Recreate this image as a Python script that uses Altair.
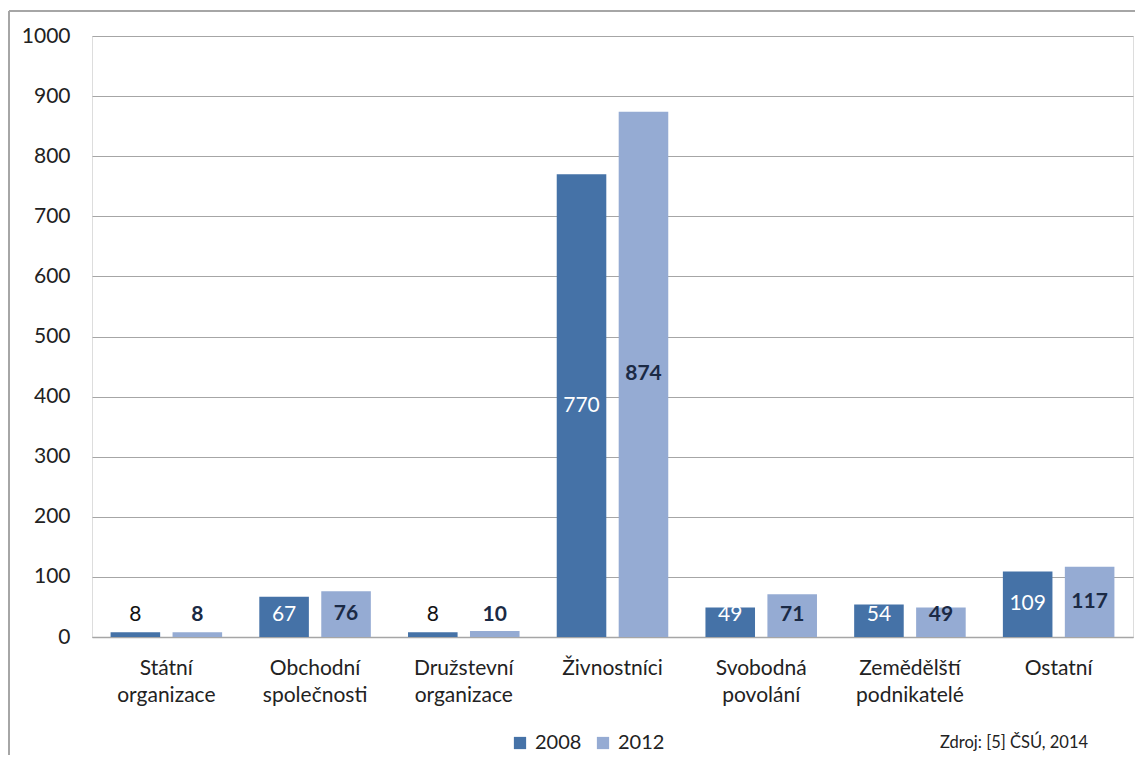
import altair as alt
import pandas as pd

categories = ["Státní|organizace", "Obchodní|společnosti", "Družstevní|organizace",
              "Živnostníci", "Svobodná|povolání", "Zemědělští|podnikatelé", "Ostatní"]
years = ["2008", "2012"]
values_2008 = [8, 67, 8, 770, 49, 54, 109]
values_2012 = [8, 76, 10, 874, 71, 49, 117]
y_ticks = [0, 100, 200, 300, 400, 500, 600, 700, 800, 900, 1000]
source_note = "Zdroj: [5] ČSÚ, 2014"

rows = []
for c, a, b in zip(categories, values_2008, values_2012):
    rows.append({"cat": c, "year": "2008", "v": a})
    rows.append({"cat": c, "year": "2012", "v": b})
df = pd.DataFrame(rows)

FONT = "Lato"
C08 = "#4572A7"
C12 = "#95ABD3"
W, H = 1041, 601

base = alt.Chart(df)

x_enc = alt.X("cat:N", sort=categories, title=None,
              scale=alt.Scale(paddingInner=0.25, paddingOuter=0.125),
              axis=alt.Axis(labelExpr="split(datum.label, '|')", labelAngle=0,
                            labelFontSize=21, labelFont=FONT, labelColor="#222222",
                            labelPadding=20, labelLineHeight=27, ticks=False,
                            domain=True, domainColor="#a6a6a6", domainWidth=1.5,
                            grid=False, labelBaseline="top"))
xo = alt.XOffset("year:N", scale=alt.Scale(paddingInner=0.2))

bars = base.mark_bar().encode(
    x=x_enc,
    xOffset=xo,
    y=alt.Y("v:Q", title=None,
            scale=alt.Scale(domain=[0, 1000], nice=False),
            axis=alt.Axis(values=y_ticks, format="d", labelFontSize=21, labelFont=FONT,
                          labelColor="#222222", labelPadding=22, ticks=False,
                          domain=False, grid=True, gridColor="#a6a6a6", gridWidth=1.2)),
    color=alt.Color("year:N", scale=alt.Scale(domain=years, range=[C08, C12]),
                    legend=alt.Legend(title=None, orient="none", direction="horizontal",
                                      legendX=418, legendY=697, symbolType="square",
                                      symbolSize=150, symbolStrokeWidth=0,
                                      labelFontSize=20, labelFont=FONT,
                                      labelColor="#222222", columnPadding=11,
                                      labelOffset=5)),
)

lab = base.transform_calculate(ly="max(datum.v / 2, 36)")

labels08 = lab.transform_filter("datum.year == '2008'").mark_text(
    font=FONT, fontSize=21, baseline="middle", align="center").encode(
    x=alt.X("cat:N", sort=categories),
    xOffset=xo,
    y=alt.Y("ly:Q"),
    text=alt.Text("v:Q"),
    color=alt.when("datum.v < 30").then(alt.value("#111111")).otherwise(alt.value("white")),
)

labels12 = lab.transform_filter("datum.year == '2012'").mark_text(
    font=FONT, fontSize=21, fontWeight="bold", baseline="middle", align="center",
    color="#1b2a45").encode(
    x=alt.X("cat:N", sort=categories),
    xOffset=xo,
    y=alt.Y("ly:Q"),
    text=alt.Text("v:Q"),
)

note = alt.Chart(pd.DataFrame({"t": [source_note]})).mark_text(
    font=FONT, fontSize=16.5, align="left", baseline="middle", color="#222222").encode(
    x=alt.value(848), y=alt.value(707), text="t:N")

border_top = alt.Chart(pd.DataFrame({"a": [0]})).mark_rule(color="#a6a6a6", strokeWidth=2).encode(
    x=alt.value(-83), x2=alt.value(1060), y=alt.value(-25))
border_left = alt.Chart(pd.DataFrame({"a": [0]})).mark_rule(color="#a6a6a6", strokeWidth=2).encode(
    x=alt.value(-83), y=alt.value(-25), y2=alt.value(760))

chart = alt.layer(bars, labels08, labels12, note, border_top, border_left).properties(
    width=W, height=H,
    autosize=alt.AutoSizeParams(type="none"),
    padding={"left": 84, "top": 28, "right": 2, "bottom": 118},
).configure_view(stroke=None).configure(background="white")

chart.save("out.html", embed_options={"renderer": "svg", "actions": False})
